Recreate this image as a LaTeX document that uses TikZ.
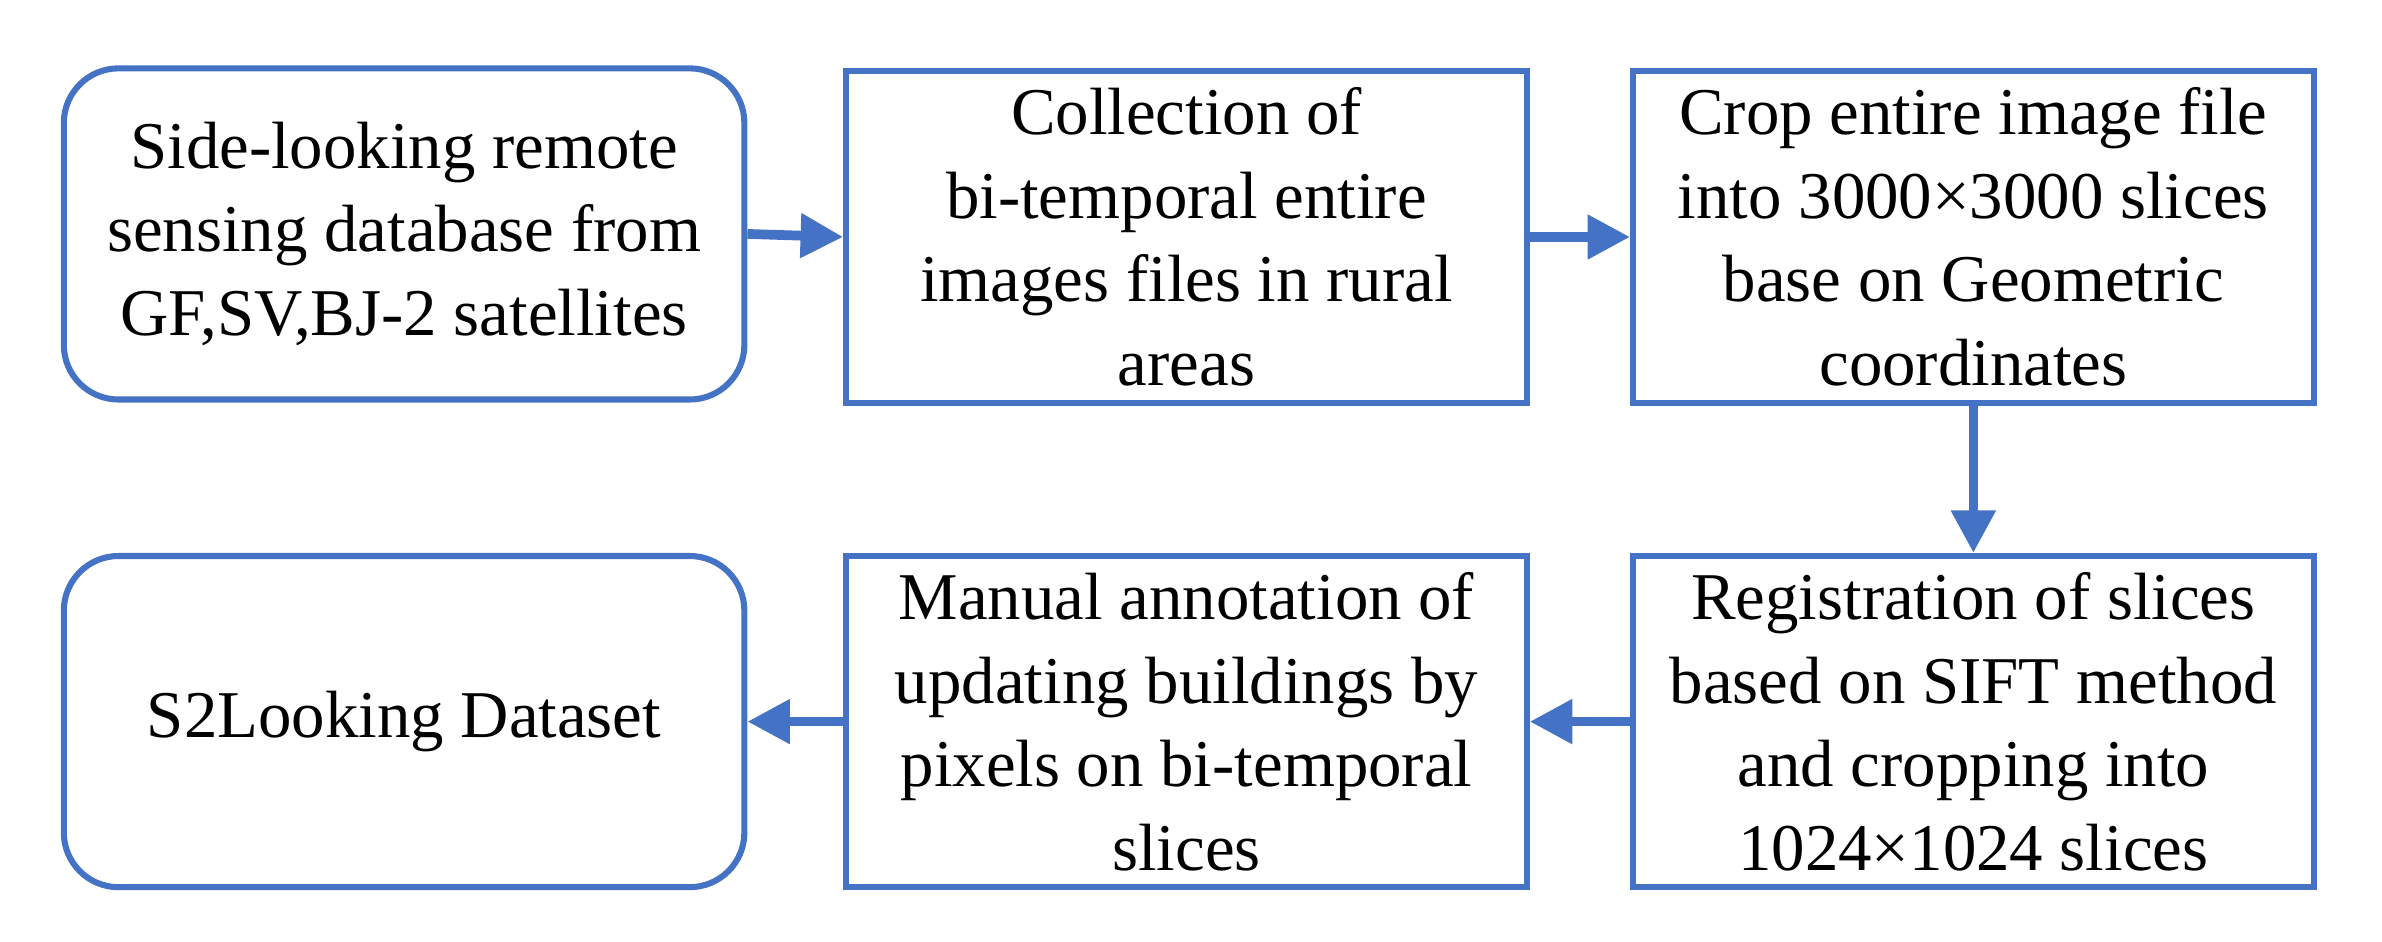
\documentclass[tikz,border=0pt]{standalone}
\usepackage{fontspec}
\setmainfont{Liberation Serif}
\usetikzlibrary{arrows.meta}
\definecolor{bl}{HTML}{4472C4}
\tikzset{
  box/.style={draw=bl,line width=2pt,minimum width=224pt,minimum height=109pt,align=center,font=\fontsize{22}{27.5}\selectfont,inner sep=0pt},
  rbox/.style={box,rounded corners=18pt},
  arr/.style={draw=bl,line width=3.2pt,-{Triangle[length=14pt,width=14pt]}}
}
\begin{document}
\begin{tikzpicture}[x=0.5pt,y=-0.5pt]
\useasboundingbox (0,0) rectangle (1568,620);
\node[rbox] (a) at (266,154) {Side-looking remote\\sensing database from\\GF,SV,BJ-2 satellites};
\node[box] (b) at (781,156) {Collection of\\bi-temporal entire\\images files in rural\\areas};
\node[box] (c) at (1299,156) {Crop entire image file\\into 3000×3000 slices\\base on Geometric\\coordinates};
\node[rbox] (d) at (266,475) {S2Looking Dataset};
\node[box] (e) at (781,475) {Manual annotation of\\updating buildings by\\pixels on bi-temporal\\slices};
\node[box] (f) at (1299,475) {Registration of slices\\based on SIFT method\\and cropping into\\1024×1024 slices};
\draw[arr] (a.east) -- (b.west);
\draw[arr] (b.east) -- (c.west);
\draw[arr] (c.south) -- (f.north);
\draw[arr] (f.west) -- (e.east);
\draw[arr] (e.west) -- (d.east);
\end{tikzpicture}
\end{document}
